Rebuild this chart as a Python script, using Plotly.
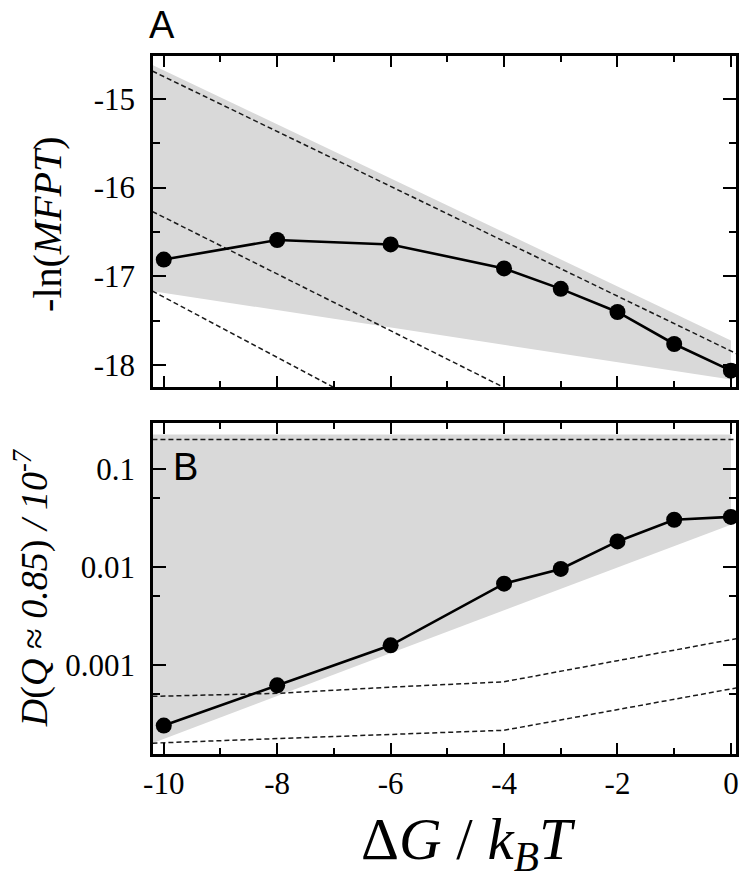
import plotly.graph_objects as go

# ---- data ----
dg = [-10, -8, -6, -4, -3, -2, -1, 0]
neg_ln_mfpt = [-16.81, -16.59, -16.64, -16.91, -17.14, -17.40, -17.76, -18.06]
diff_coef = [2.39e-4, 6.16e-4, 1.58e-3, 6.73e-3, 9.53e-3, 0.0182, 0.0303, 0.0324]

# panel A: shaded band and dashed guide lines
band_a_x = [-10.2, 0, 0, -10.2]
band_a_y = [-14.62, -17.72, -18.16, -17.165]
guide_a1_x = [-10.2, 0.1]
guide_a1_y = [-14.69, -17.87]
guide_a2_x = [-10.2, -4.0]
guide_a2_y = [-16.27, -18.25]
guide_a3_x = [-10.2, -7.0]
guide_a3_y = [-17.165, -18.25]

# panel B: shaded band and dashed guide lines
band_b_x = [-10.2, 0, 0, -10.2]
band_b_y = [0.225, 0.225, 0.027, 1.58e-4]
guide_b1_x = [-10.2, 0.1]
guide_b1_y = [0.2, 0.2]
guide_b2_x = [-10.2, -8, -6, -4, -2, 0.1]
guide_b2_y = [4.75e-4, 5.1e-4, 5.9e-4, 6.7e-4, 1.1e-3, 1.85e-3]
guide_b3_x = [-10.2, -4, 0.1]
guide_b3_y = [1.58e-4, 2.14e-4, 5.8e-4]

# ticks
x_ticks = [-10, -8, -6, -4, -2, 0]
x_tick_text = ["-10", "-8", "-6", "-4", "-2", "0"]
a_ticks = [-15, -16, -17, -18]
a_tick_text = ["-15", "-16", "-17", "-18"]
b_ticks = [0.001, 0.01, 0.1]
b_tick_text = ["0.001", "0.01", "0.1"]
b_minor = [0.0005, 0.005, 0.05]

SERIF = "Liberation Serif"
SANS = "Liberation Sans"
GRAY = "#d9d9d9"

fig = go.Figure()

def add_panel(xa, ya, bx, by, guides, y):
    fig.add_trace(go.Scatter(x=bx, y=by, fill="toself", fillcolor=GRAY,
                             mode="lines", line=dict(width=0), xaxis=xa, yaxis=ya,
                             hoverinfo="skip", showlegend=False))
    for gx, gy in guides:
        fig.add_trace(go.Scatter(x=gx, y=gy, mode="lines",
                                 line=dict(color="#1a1a1a", width=1.5, dash="5px,3px"),
                                 xaxis=xa, yaxis=ya, showlegend=False))
    fig.add_trace(go.Scatter(x=dg, y=y, mode="lines+markers",
                             line=dict(color="black", width=2.6),
                             marker=dict(color="black", size=16),
                             cliponaxis=False, xaxis=xa, yaxis=ya, showlegend=False))

add_panel("x", "y", band_a_x, band_a_y,
          [(guide_a1_x, guide_a1_y), (guide_a2_x, guide_a2_y), (guide_a3_x, guide_a3_y)],
          neg_ln_mfpt)
add_panel("x2", "y2", band_b_x, band_b_y,
          [(guide_b1_x, guide_b1_y), (guide_b2_x, guide_b2_y), (guide_b3_x, guide_b3_y)],
          diff_coef)

axis_common = dict(showline=True, linecolor="black", linewidth=2.5, mirror="ticks",
                   ticks="inside", tickcolor="black", tickwidth=2, showgrid=False,
                   zeroline=False, layer="above traces",
                   tickfont=dict(family=SERIF, size=31, color="black"))

# the page body adds an 8px offset, so the figure is 8px smaller on the left/top
fig.update_layout(
    width=742, height=871,
    margin=dict(l=145, r=14, t=48, b=125),
    paper_bgcolor="white", plot_bgcolor="white",
    showlegend=False,
    xaxis=dict(axis_common, domain=[0, 1], anchor="y", range=[-10.19, 0.09],
               tickmode="array", tickvals=x_ticks, ticktext=x_tick_text,
               showticklabels=False, ticklen=11,
               minor=dict(dtick=1, tick0=0, ticks="inside", ticklen=6, tickwidth=2,
                          tickcolor="black")),
    yaxis=dict(axis_common, domain=[0.5258, 1], anchor="x", range=[-18.244, -14.52],
               tickmode="array", tickvals=a_ticks, ticktext=a_tick_text, ticklen=13,
               ticklabelstandoff=9,
               minor=dict(dtick=0.5, tick0=0, ticks="inside", ticklen=7, tickwidth=2,
                          tickcolor="black")),
    xaxis2=dict(axis_common, domain=[0, 1], anchor="y2", range=[-10.19, 0.09],
                tickmode="array", tickvals=x_ticks, ticktext=x_tick_text, ticklen=11,
                minor=dict(dtick=1, tick0=0, ticks="inside", ticklen=6, tickwidth=2,
                           tickcolor="black")),
    yaxis2=dict(axis_common, domain=[0, 0.4742], anchor="x2", type="log",
                range=[-3.912, -0.53],
                tickmode="array", tickvals=b_ticks, ticktext=b_tick_text, ticklen=13,
                ticklabelstandoff=9,
                minor=dict(tickmode="array", tickvals=b_minor, ticks="inside", ticklen=7,
                           tickwidth=2, tickcolor="black")),
)

fig.add_annotation(text="-ln(<i>MFPT</i>)", xref="paper", yref="paper",
                   x=-0.182, y=0.7593, xanchor="center", yanchor="middle",
                   textangle=-90, showarrow=False,
                   font=dict(family=SERIF, size=40, color="black"))
fig.add_annotation(text="<i>D</i>(<i>Q</i> ≈ <i>0.85</i>) <i>/ 10<sup>-7</sup></i>",
                   xref="paper", yref="paper",
                   x=-0.209, y=0.2378, xanchor="center", yanchor="middle",
                   textangle=-90, showarrow=False,
                   font=dict(family=SERIF, size=38, color="black"))
fig.add_annotation(text="Δ<i>G</i> / <i>k</i><sub><i>B</i></sub><i>T</i>",
                   xref="paper", yref="paper",
                   x=0.542, y=-0.127, xanchor="center", yanchor="middle",
                   showarrow=False, font=dict(family=SERIF, size=59, color="black"))
fig.add_annotation(text="A", xref="paper", yref="paper",
                   x=0.0154, y=1.045, xanchor="center", yanchor="middle",
                   showarrow=False, font=dict(family=SANS, size=38, color="black"))
fig.add_annotation(text="B", xref="paper", yref="paper",
                   x=0.0566, y=0.411, xanchor="center", yanchor="middle",
                   showarrow=False, font=dict(family=SANS, size=38, color="black"))

fig.write_html("out.html")
